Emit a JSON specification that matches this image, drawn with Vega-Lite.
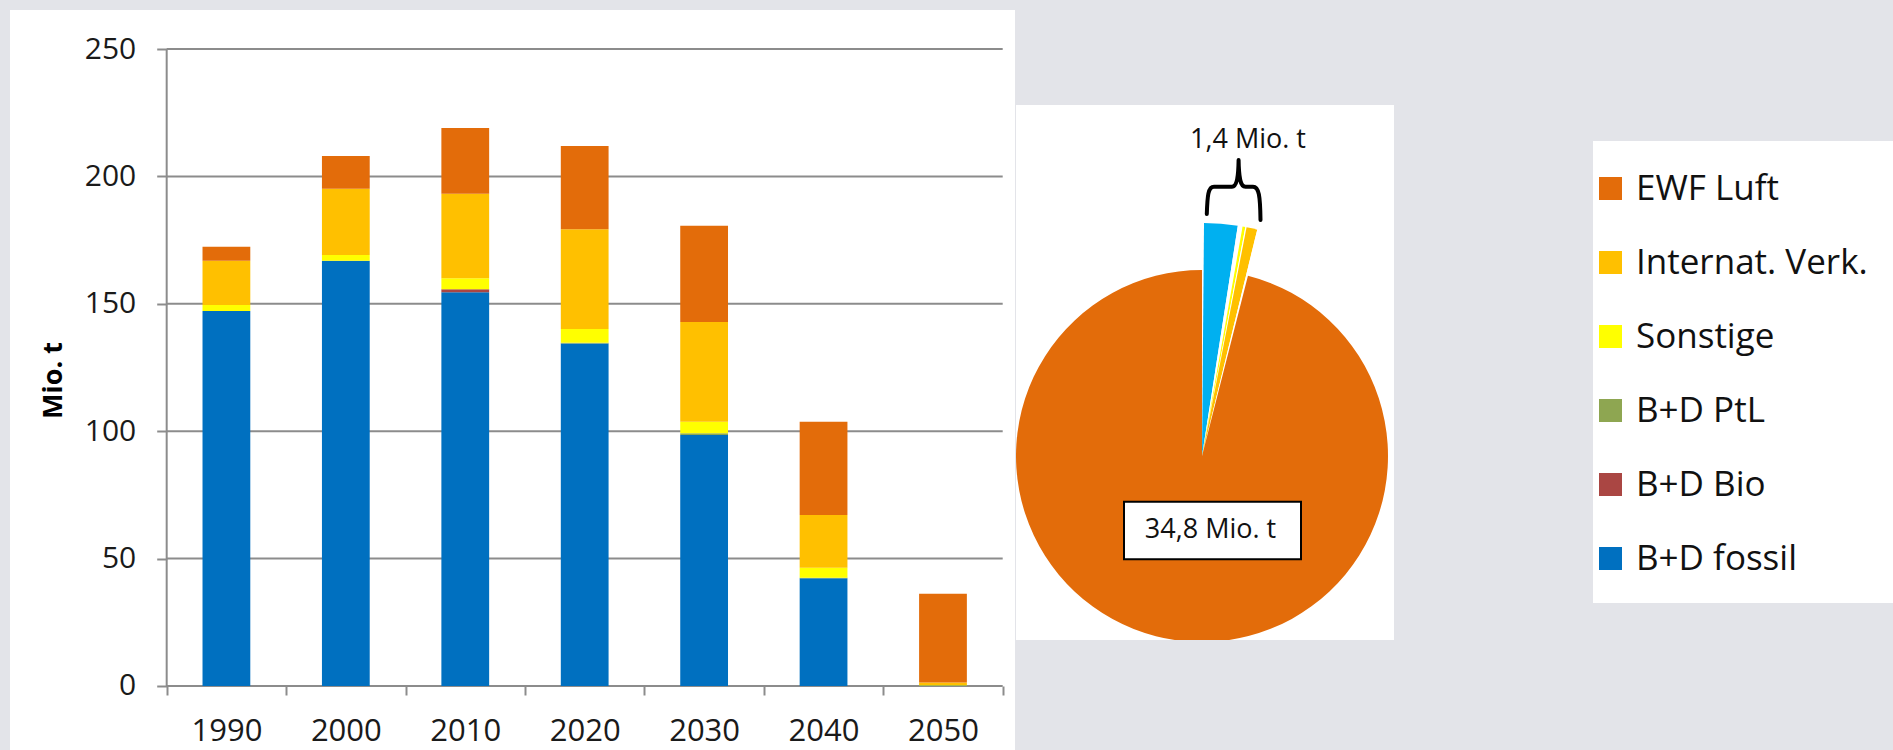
{
  "$schema": "https://vega.github.io/schema/vega-lite/v6.json",
  "background": "#E3E4E9",
  "padding": {"left": 10, "top": 10, "right": 0, "bottom": 0},
  "config": {
    "font": "Open Sans",
    "view": {"stroke": null},
    "locale": {"number": {"decimal": ",", "thousands": ".", "grouping": [3], "currency": ["", " Mio. t"]}}
  },
  "datasets": {
    "balken": [
      {"jahr": "1990", "reihe": "B+D fossil", "wert": 147.2, "ebene": 1},
      {"jahr": "1990", "reihe": "Sonstige", "wert": 2.3, "ebene": 4},
      {"jahr": "1990", "reihe": "Internat. Verk.", "wert": 17.4, "ebene": 5},
      {"jahr": "1990", "reihe": "EWF Luft", "wert": 5.5, "ebene": 6},
      {"jahr": "2000", "reihe": "B+D fossil", "wert": 166.9, "ebene": 1},
      {"jahr": "2000", "reihe": "Sonstige", "wert": 2.3, "ebene": 4},
      {"jahr": "2000", "reihe": "Internat. Verk.", "wert": 26.0, "ebene": 5},
      {"jahr": "2000", "reihe": "EWF Luft", "wert": 12.8, "ebene": 6},
      {"jahr": "2010", "reihe": "B+D fossil", "wert": 154.5, "ebene": 1},
      {"jahr": "2010", "reihe": "B+D Bio", "wert": 1.2, "ebene": 2},
      {"jahr": "2010", "reihe": "Sonstige", "wert": 4.3, "ebene": 4},
      {"jahr": "2010", "reihe": "Internat. Verk.", "wert": 33.2, "ebene": 5},
      {"jahr": "2010", "reihe": "EWF Luft", "wert": 25.8, "ebene": 6},
      {"jahr": "2020", "reihe": "B+D fossil", "wert": 134.4, "ebene": 1},
      {"jahr": "2020", "reihe": "B+D PtL", "wert": 0.3, "ebene": 3},
      {"jahr": "2020", "reihe": "Sonstige", "wert": 5.4, "ebene": 4},
      {"jahr": "2020", "reihe": "Internat. Verk.", "wert": 39.2, "ebene": 5},
      {"jahr": "2020", "reihe": "EWF Luft", "wert": 32.6, "ebene": 6},
      {"jahr": "2030", "reihe": "B+D fossil", "wert": 98.5, "ebene": 1},
      {"jahr": "2030", "reihe": "B+D PtL", "wert": 0.7, "ebene": 3},
      {"jahr": "2030", "reihe": "Sonstige", "wert": 4.5, "ebene": 4},
      {"jahr": "2030", "reihe": "Internat. Verk.", "wert": 39.2, "ebene": 5},
      {"jahr": "2030", "reihe": "EWF Luft", "wert": 37.7, "ebene": 6},
      {"jahr": "2040", "reihe": "B+D fossil", "wert": 42.3, "ebene": 1},
      {"jahr": "2040", "reihe": "B+D PtL", "wert": 0.2, "ebene": 3},
      {"jahr": "2040", "reihe": "Sonstige", "wert": 3.9, "ebene": 4},
      {"jahr": "2040", "reihe": "Internat. Verk.", "wert": 20.7, "ebene": 5},
      {"jahr": "2040", "reihe": "EWF Luft", "wert": 36.6, "ebene": 6},
      {"jahr": "2050", "reihe": "B+D PtL", "wert": 0.3, "ebene": 3},
      {"jahr": "2050", "reihe": "Sonstige", "wert": 0.1, "ebene": 4},
      {"jahr": "2050", "reihe": "Internat. Verk.", "wert": 1.0, "ebene": 5},
      {"jahr": "2050", "reihe": "EWF Luft", "wert": 34.8, "ebene": 6}
    ],
    "kreis": [
      {"teil": "Lücke 1", "gruppe": "Keil", "wert": 0.05, "n": 1},
      {"teil": "Teil 1", "gruppe": "Keil", "wert": 0.84, "n": 2},
      {"teil": "Lücke 2", "gruppe": "Keil", "wert": 0.12, "n": 3},
      {"teil": "Teil 2", "gruppe": "Keil", "wert": 0.07, "n": 4},
      {"teil": "Lücke 3", "gruppe": "Keil", "wert": 0.03, "n": 5},
      {"teil": "Teil 3", "gruppe": "Keil", "wert": 0.27, "n": 6},
      {"teil": "Lücke 4", "gruppe": "Keil", "wert": 0.06, "n": 7},
      {"teil": "EWF Luft", "gruppe": "Kreis", "wert": 34.8, "n": 8}
    ],
    "raster": [{"mt": 0}, {"mt": 50}, {"mt": 100}, {"mt": 150}, {"mt": 200}, {"mt": 250}]
  },
  "resolve": {"scale": {"color": "independent", "x": "independent", "y": "independent"}},
  "spacing": 199,
  "hconcat": [
    {
      "spacing": 1,
      "resolve": {"scale": {"color": "independent", "x": "independent", "y": "independent"}},
      "hconcat": [
        {
          "width": 1005,
          "height": 740,
          "view": {"fill": "white", "stroke": null},
          "layer": [
            {
              "data": {"name": "raster"},
              "mark": {"type": "rule", "color": "#8C8C8C", "strokeWidth": 2},
              "encoding": {
                "y": {"field": "mt", "type": "quantitative", "scale": {"domain": [-25.12, 265.31], "nice": false, "zero": false},
                  "axis": {"orient": "left", "offset": -156.7, "values": [0, 50, 100, 150, 200, 250], "domain": false, "grid": false, "ticks": true, "tickSize": 10, "tickWidth": 2, "tickColor": "#8C8C8C", "labelFontSize": 30, "labelColor": "#1A1A1A", "labelPadding": 21, "labelFont": "Open Sans", "title": "Mio. t", "titleFontSize": 27, "titleFontWeight": "bold", "titleColor": "#000000", "titlePadding": 17, "titleFont": "Open Sans"}},
                "x": {"datum": "1990", "type": "nominal", "bandPosition": 0, "scale": {"domain": ["1990", "2000", "2010", "2020", "2030", "2040", "2050"], "paddingInner": 0, "paddingOuter": 0.7075, "align": 0.9272},
                  "axis": {"orient": "bottom", "offset": -64, "title": null, "domain": false, "grid": false, "tickBand": "extent", "ticks": true, "tickSize": 9, "tickWidth": 2, "tickColor": "#8C8C8C", "labelAngle": 0, "labelFontSize": 31, "labelColor": "#1A1A1A", "labelPadding": 21, "labelFont": "Open Sans"}},
                "x2": {"datum": "2050", "bandPosition": 1}
              }
            },
            {
              "data": {"name": "raster"},
              "transform": [{"filter": "datum.mt == 0"}],
              "mark": {"type": "rule", "color": "#8C8C8C", "strokeWidth": 2},
              "encoding": {
                "x": {"datum": "1990", "type": "nominal", "bandPosition": 0,
                  "axis": {"orient": "bottom", "offset": -64, "title": null, "domain": false, "grid": false, "tickBand": "extent", "ticks": true, "tickSize": 9, "tickWidth": 2, "tickColor": "#8C8C8C", "labelAngle": 0, "labelFontSize": 31, "labelColor": "#1A1A1A", "labelPadding": 21, "labelFont": "Open Sans"}},
                "y": {"datum": 0, "type": "quantitative",
                  "axis": {"orient": "left", "offset": -156.7, "values": [0, 50, 100, 150, 200, 250], "domain": false, "grid": false, "ticks": true, "tickSize": 10, "tickWidth": 2, "tickColor": "#8C8C8C", "labelFontSize": 30, "labelColor": "#1A1A1A", "labelPadding": 21, "labelFont": "Open Sans", "title": "Mio. t", "titleFontSize": 27, "titleFontWeight": "bold", "titleColor": "#000000", "titlePadding": 17, "titleFont": "Open Sans"}},
                "y2": {"datum": 250}
              }
            },
            {
              "data": {"name": "balken"},
              "mark": {"type": "bar", "width": {"band": 0.4}},
              "encoding": {
                "x": {
                  "field": "jahr", "type": "nominal",
                  "axis": {"orient": "bottom", "offset": -64, "title": null, "domain": false, "grid": false, "tickBand": "extent", "ticks": true, "tickSize": 9, "tickWidth": 2, "tickColor": "#8C8C8C", "labelAngle": 0, "labelFontSize": 31, "labelColor": "#1A1A1A", "labelPadding": 21, "labelFont": "Open Sans"}
                },
                "y": {
                  "field": "wert", "type": "quantitative", "stack": "zero",
                  "axis": {"orient": "left", "offset": -156.7, "values": [0, 50, 100, 150, 200, 250], "domain": false, "grid": false, "ticks": true, "tickSize": 10, "tickWidth": 2, "tickColor": "#8C8C8C", "labelFontSize": 30, "labelColor": "#1A1A1A", "labelPadding": 21, "labelFont": "Open Sans", "title": "Mio. t", "titleFontSize": 27, "titleFontWeight": "bold", "titleColor": "#000000", "titlePadding": 17, "titleFont": "Open Sans"}
                },
                "color": {
                  "field": "reihe", "type": "nominal",
                  "scale": {"domain": ["EWF Luft", "Internat. Verk.", "Sonstige", "B+D PtL", "B+D Bio", "B+D fossil"], "range": ["#E36C0A", "#FFC000", "#FFFF00", "#8EA651", "#AA4643", "#0070C0"]},
                  "legend": null
                },
                "order": {"field": "ebene", "type": "quantitative", "sort": "ascending"}
              }
            }
          ]
        },
        {
          "spacing": 0,
          "vconcat": [
            {
              "width": 378,
              "height": 95,
              "data": {"name": "raster"},
              "mark": {"type": "point", "opacity": 0}
            },
            {
              "width": 378,
              "height": 535,
              "view": {"fill": "white", "stroke": null},
              "data": {"name": "kreis"},
              "layer": [
                {
                  "transform": [{"stack": "wert", "groupby": [], "sort": [{"field": "n", "order": "ascending"}], "as": ["w0", "w1"]}],
                  "mark": {"type": "arc", "clip": true},
                  "encoding": {
                    "x": {"datum": 0, "type": "quantitative", "scale": {"domain": [-186, 192], "nice": false, "zero": false}, "axis": null},
                    "y": {"datum": 0, "type": "quantitative", "scale": {"domain": [-184, 351], "nice": false, "zero": false}, "axis": null},
                    "theta": {"field": "w0", "type": "quantitative", "stack": null, "scale": {"domain": [0, 36.24], "nice": false, "zero": true}},
                    "theta2": {"field": "w1"},
                    "radius": {"field": "gruppe", "type": "nominal", "scale": {"type": "point", "domain": ["Keil", "Kreis"], "range": [233, 186], "padding": 0}, "legend": null},
                    "radius2": {"value": 0},
                    "color": {
                      "field": "teil", "type": "nominal",
                      "scale": {"domain": ["Lücke 1", "Teil 1", "Lücke 2", "Teil 2", "Lücke 3", "Teil 3", "Lücke 4", "EWF Luft"], "range": ["#FFFFFF", "#00B0F0", "#FFFFFF", "#FFFF00", "#FFFFFF", "#FFC000", "#FFFFFF", "#E36C0A"]},
                      "legend": null
                    }
                  }
                },
                {
                  "transform": [{"filter": "datum.gruppe == 'Kreis'"}],
                  "mark": {"type": "rect", "fill": "white", "stroke": "black", "strokeWidth": 2},
                  "encoding": {
                    "x": {"datum": -78, "type": "quantitative", "axis": null},
                    "x2": {"datum": 99},
                    "y": {"datum": -45.7, "type": "quantitative", "axis": null},
                    "y2": {"datum": -103.3}
                  }
                },
                {
                  "transform": [{"filter": "datum.gruppe == 'Kreis'"}],
                  "mark": {"type": "text", "fontSize": 27, "color": "#111111", "baseline": "middle", "align": "center"},
                  "encoding": {
                    "x": {"datum": 8.5, "type": "quantitative", "axis": null},
                    "y": {"datum": -74, "type": "quantitative", "axis": null},
                    "text": {"field": "wert", "type": "quantitative", "format": "$.1f"}
                  }
                },
                {
                  "transform": [{"filter": "datum.gruppe == 'Keil'"}, {"aggregate": [{"op": "sum", "field": "wert", "as": "summe"}]}],
                  "mark": {"type": "text", "fontSize": 27, "color": "#111111", "baseline": "middle", "align": "center"},
                  "encoding": {
                    "x": {"datum": 46, "type": "quantitative", "axis": null},
                    "y": {"datum": 316, "type": "quantitative", "axis": null},
                    "text": {"field": "summe", "type": "quantitative", "format": "$.1f"}
                  }
                },
                {
                  "transform": [{"filter": "datum.gruppe == 'Keil'"}, {"aggregate": [{"op": "sum", "field": "wert", "as": "summe"}]}],
                  "mark": {"type": "point", "shape": "M-0.89,0.8 C-0.87,0.2 -0.85,-0.11 -0.65,-0.11 L-0.05,-0.11 C0.1,-0.11 0.16,-0.4 0.17,-1 M0.17,-1 C0.18,-0.4 0.22,-0.11 0.4,-0.11 L0.65,-0.11 C0.85,-0.11 0.89,0.2 0.9,1", "size": 3600, "filled": false, "color": "#000000", "strokeWidth": 4, "opacity": 1, "strokeCap": "round", "strokeJoin": "round"},
                  "encoding": {
                    "x": {"datum": 31.5, "type": "quantitative", "axis": null},
                    "y": {"datum": 266, "type": "quantitative", "axis": null}
                  }
                }
              ]
            }
          ]
        }
      ]
    },
    {
      "spacing": 0,
      "vconcat": [
        {
          "width": 300,
          "height": 131,
          "data": {"name": "raster"},
          "mark": {"type": "point", "opacity": 0}
        },
        {
          "width": 300,
          "height": 462,
          "view": {"fill": "white", "stroke": null},
          "data": {"name": "balken"},
          "mark": {"type": "square", "filled": true, "opacity": 0},
          "encoding": {
            "color": {
              "field": "reihe", "type": "nominal",
              "scale": {"domain": ["EWF Luft", "Internat. Verk.", "Sonstige", "B+D PtL", "B+D Bio", "B+D fossil"], "range": ["#E36C0A", "#FFC000", "#FFFF00", "#8EA651", "#AA4643", "#0070C0"]},
              "legend": {"orient": "none", "legendX": 0, "legendY": 161, "title": null, "padding": 0, "symbolType": "square", "symbolSize": 529, "symbolStrokeWidth": 0, "symbolOpacity": 1, "labelFontSize": 35, "labelFont": "Open Sans", "labelColor": "#111111", "labelOffset": 8, "rowPadding": 38, "labelLimit": 400}
            }
          }
        }
      ]
    }
  ]
}
